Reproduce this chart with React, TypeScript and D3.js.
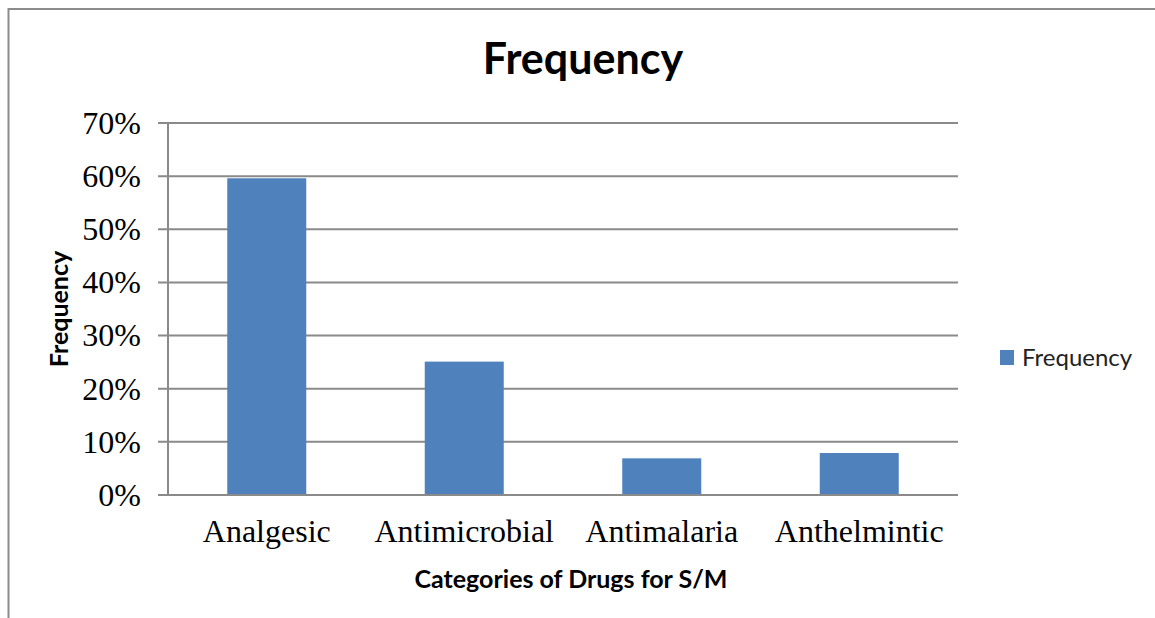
import React, { useRef, useEffect } from "react";
import * as d3 from "d3";

const categories = ["Analgesic", "Antimicrobial", "Antimalaria", "Anthelmintic"];
const frequency = [0.596, 0.251, 0.069, 0.079];
const yTicks = [0, 0.1, 0.2, 0.3, 0.4, 0.5, 0.6, 0.7];
const seriesName = "Frequency";

const W = 1155;
const H = 618;

const App = () => {
  const ref = useRef<SVGSVGElement>(null);

  useEffect(() => {
    if (!ref.current) return;
    const svg = d3.select(ref.current);
    svg.selectAll("*").remove();

    const left = 168;
    const right = 958;
    const top = 123;
    const bottom = 495;
    const grid = "#8a8a8a";
    const sans = "Lato, 'Open Sans', sans-serif";
    const serif = "'Liberation Serif', 'DejaVu Serif', serif";

    // outer chart border (runs off the right and bottom of the picture)
    svg
      .append("rect")
      .attr("x", 8.5)
      .attr("y", 9)
      .attr("width", 1300)
      .attr("height", 800)
      .attr("fill", "white")
      .attr("stroke", "#8c8c8c")
      .attr("stroke-width", 2);

    const x = d3.scaleBand().domain(categories).range([left, right]).padding(0);
    const y = d3.scaleLinear().domain([0, 0.7]).range([bottom, top]);
    const barW = x.bandwidth() * 0.4;

    // gridlines + tick marks
    svg
      .append("g")
      .selectAll("line")
      .data(yTicks)
      .enter()
      .append("line")
      .attr("x1", left - 10)
      .attr("x2", right)
      .attr("y1", (d) => y(d))
      .attr("y2", (d) => y(d))
      .attr("stroke", grid)
      .attr("stroke-width", 2);

    // y axis line
    svg
      .append("line")
      .attr("x1", left)
      .attr("x2", left)
      .attr("y1", top)
      .attr("y2", bottom)
      .attr("stroke", grid)
      .attr("stroke-width", 2);

    // y tick labels
    svg
      .append("g")
      .selectAll("text")
      .data(yTicks)
      .enter()
      .append("text")
      .attr("x", 141)
      .attr("y", (d) => y(d))
      .attr("dy", "0.34em")
      .attr("text-anchor", "end")
      .attr("font-family", serif)
      .attr("font-size", 32)
      .attr("fill", "#000")
      .text((d) => d3.format(".0%")(d));

    // bars
    svg
      .append("g")
      .selectAll("rect")
      .data(frequency)
      .enter()
      .append("rect")
      .attr("x", (d, i) => (x(categories[i]) as number) + (x.bandwidth() - barW) / 2)
      .attr("y", (d) => y(d))
      .attr("width", barW)
      .attr("height", (d) => y(0) - y(d))
      .attr("fill", "#4f81bd");

    // redraw the zero line over the bars
    svg
      .append("line")
      .attr("x1", left - 10)
      .attr("x2", right)
      .attr("y1", y(0))
      .attr("y2", y(0))
      .attr("stroke", grid)
      .attr("stroke-width", 2);

    // category labels
    svg
      .append("g")
      .selectAll("text")
      .data(categories)
      .enter()
      .append("text")
      .attr("x", (d) => (x(d) as number) + x.bandwidth() / 2)
      .attr("y", 542)
      .attr("text-anchor", "middle")
      .attr("font-family", serif)
      .attr("font-size", 32)
      .attr("fill", "#000")
      .text((d) => d);

    // title
    svg
      .append("text")
      .attr("x", 583)
      .attr("y", 74)
      .attr("text-anchor", "middle")
      .attr("font-family", sans)
      .attr("font-weight", "bold")
      .attr("font-size", 43)
      .text("Frequency");

    // x axis title
    svg
      .append("text")
      .attr("x", 571)
      .attr("y", 588)
      .attr("text-anchor", "middle")
      .attr("font-family", sans)
      .attr("font-weight", "bold")
      .attr("font-size", 25)
      .text("Categories of Drugs for S/M");

    // y axis title
    svg
      .append("text")
      .attr("transform", `translate(68,${(top + bottom) / 2}) rotate(-90)`)
      .attr("text-anchor", "middle")
      .attr("font-family", sans)
      .attr("font-weight", "bold")
      .attr("font-size", 25)
      .text("Frequency");

    // legend
    const lg = svg.append("g").attr("transform", "translate(1000,350)");
    lg.append("rect").attr("width", 14).attr("height", 15).attr("fill", "#4f81bd");
    lg.append("text")
      .attr("x", 22)
      .attr("y", 7.5)
      .attr("dy", "0.35em")
      .attr("font-family", sans)
      .attr("font-size", 24)
      .attr("fill", "#222")
      .text(seriesName);
  }, []);

  return (
    <svg
      ref={ref}
      width={W}
      height={H}
      style={{ position: "absolute", left: 0, top: 0, background: "white" }}
    />
  );
};

export default App;
